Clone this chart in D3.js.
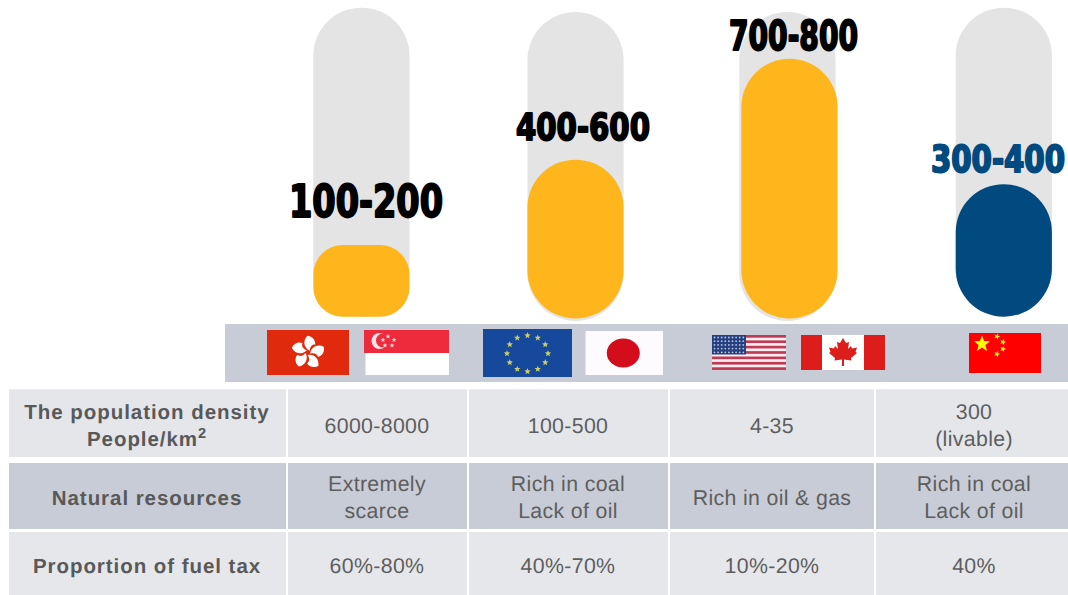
<!DOCTYPE html>
<html>
<head>
<meta charset="utf-8">
<script src="https://cdn.jsdelivr.net/npm/d3@7/dist/d3.min.js"></script>
<style>
  html, body { margin: 0; padding: 0; background: #fff; overflow: hidden; }
  svg { display: block; }
  text { font-family: "Liberation Sans", Arial, sans-serif; }
</style>
</head>
<body>
<svg id="chart" width="1068" height="595"></svg>
<script>
// Fuel price ranges by economy group (the label states the range, the bar an estimate inside it)
const groups = ["Hong Kong & Singapore", "EU & Japan", "USA & Canada", "China"];
const rangeLabels = ["100-200", "400-600", "700-800", "300-400"];
const barValues = [199, 441, 721, 368];
const trackCapacity = 858;
const barColors = ["#ffb61c", "#ffb61c", "#ffb61c", "#004a7f"];
const labelColors = ["#000000", "#000000", "#000000", "#004a7f"];

// Comparison table below the bars
const rowHeaders = [["The population density", "People/km"], ["Natural resources"], ["Proportion of fuel tax"]];
const densityRow = [["6000-8000"], ["100-500"], ["4-35"], ["300", "(livable)"]];
const resourceRow = [["Extremely", "scarce"], ["Rich in coal", "Lack of oil"], ["Rich in oil & gas"], ["Rich in coal", "Lack of oil"]];
const fuelTaxRow = [["60%-80%"], ["40%-70%"], ["10%-20%"], ["40%"]];

// Layout of each bar column
const trackLeft = [313.3, 527.4, 739.3, 955.7];
const barLeft = [313.3, 527.4, 741.4, 955.7];
const trackBase = [316.7, 321, 321, 316.7];
const barBase = [316.7, 318.5, 318.5, 316.7];
const barWidth = 96.2;
const labelLeft = [289, 516, 729, 931];
const labelWidth = [154, 134, 129, 134];
const labelBase = [217, 140, 50, 172];
const labelSize = [44, 38, 40, 37];

const svg = d3.select("#chart");
const defs = svg.append("defs");
defs.append("filter").attr("id", "soft")
  .attr("x", "-5%").attr("y", "-5%").attr("width", "110%").attr("height", "110%")
  .append("feGaussianBlur").attr("stdDeviation", 0.6);

const height = d3.scaleLinear().domain([0, trackCapacity]).range([0, 309]);
const indices = d3.range(groups.length);

// Bars: grey full-height track with the value capsule on top
const column = svg.append("g").selectAll("g").data(indices).join("g");
column.append("rect")
  .attr("x", i => trackLeft[i])
  .attr("y", i => trackBase[i] - height(trackCapacity))
  .attr("width", barWidth)
  .attr("height", height(trackCapacity))
  .attr("rx", 48).attr("ry", 48)
  .attr("fill", "#e4e4e4");
column.append("rect")
  .attr("x", i => barLeft[i])
  .attr("y", i => barBase[i] - height(barValues[i]))
  .attr("width", barWidth)
  .attr("height", i => height(barValues[i]))
  .attr("rx", i => Math.min(48, height(barValues[i]) * 0.41))
  .attr("ry", i => Math.min(48, height(barValues[i]) * 0.41))
  .attr("fill", i => barColors[i]);
column.append("text")
  .attr("x", i => labelLeft[i])
  .attr("y", i => labelBase[i])
  .attr("textLength", i => labelWidth[i])
  .attr("lengthAdjust", "spacingAndGlyphs")
  .attr("font-size", i => labelSize[i])
  .attr("font-weight", 700)
  .style("font-family", '"DejaVu Sans Condensed", "DejaVu Sans", sans-serif')
  .attr("fill", i => labelColors[i])
  .attr("stroke", i => labelColors[i])
  .attr("stroke-width", 1.9)
  .attr("stroke-linejoin", "round")
  .text(i => rangeLabels[i]);

// Flag strip
svg.append("rect").attr("x", 225).attr("y", 324).attr("width", 843).attr("height", 58).attr("fill", "#c8ccd6");
const flags = svg.append("g").attr("filter", "url(#soft)");

function starPath(cx, cy, r, rot = -90) {
  const pts = d3.range(10).map(k => {
    const a = (rot + k * 36) * Math.PI / 180, q = k % 2 ? r * 0.42 : r;
    return [cx + q * Math.cos(a), cy + q * Math.sin(a)];
  });
  return "M" + pts.map(p => p.join(",")).join("L") + "Z";
}
function rect(g, x, y, w, h, fill) {
  return g.append("rect").attr("x", x).attr("y", y).attr("width", w).attr("height", h).attr("fill", fill);
}

// Hong Kong
rect(flags, 267, 330, 82, 45, "#e1290a");
d3.range(5).forEach(k => {
  flags.append("path")
    .attr("transform", `translate(308,352.5) rotate(${k * 72 + 8})`)
    .attr("d", "M1.5,-2 C-5,-4 -7,-11 -3,-16.5 C2,-17 6,-13 6,-9 C3,-9 1,-6 1.5,-2Z")
    .attr("fill", "#fff");
});

// Singapore
rect(flags, 365.5, 352, 83.5, 23, "#fff");
rect(flags, 364, 330, 85, 23, "#ee2a3c");
flags.append("circle").attr("cx", 379.5).attr("cy", 341).attr("r", 8).attr("fill", "#fbe4e6");
flags.append("circle").attr("cx", 383).attr("cy", 340.5).attr("r", 7).attr("fill", "#ee2a3c");
[[388, 336.5], [394, 340], [392, 345.5], [385, 345.5], [383, 340]].forEach(p => {
  flags.append("path").attr("d", starPath(p[0], p[1], 2.6)).attr("fill", "#f6d8dc");
});

// European Union
rect(flags, 483, 329, 89, 48, "#17489b");
d3.range(12).forEach(k => {
  const a = k * 30 * Math.PI / 180;
  flags.append("path")
    .attr("d", starPath(527.5 + 20.5 * Math.sin(a), 353.5 - 18 * Math.cos(a), 3.4))
    .attr("fill", "#c9cf6a");
});

// Japan
rect(flags, 585.5, 331, 77.5, 44, "#fdfbfd");
flags.append("ellipse").attr("cx", 623.3).attr("cy", 353).attr("rx", 16.5).attr("ry", 14.5).attr("fill", "#d3091f");

// United States
rect(flags, 712, 335, 74, 35, "#fbeef0");
d3.range(7).forEach(k => {
  rect(flags, 712, 335 + k * 5.38, 74, 2.69, "#bf3a55");
});
rect(flags, 712, 335, 34, 19.5, "#25417f");
d3.range(5).forEach(r => d3.range(9).forEach(c => {
  flags.append("circle").attr("cx", 714.5 + c * 3.6).attr("cy", 337.5 + r * 3.7).attr("r", 0.9).attr("fill", "#b9c4dd");
}));

// Canada
rect(flags, 801, 335, 84, 35, "#dd1c1a");
rect(flags, 822, 335, 42, 35, "#fff");
flags.append("path")
  .attr("d", "M843,338 L846,343 L849,342 L848,349 L851,346 L852,348.5 L857,347.5 L855.5,352 L857,353 L851,358 L851.5,360.5 L844,359.5 L844,366 L842,366 L842,359.5 L834.5,360.5 L835,358 L829,353 L830.5,352 L829,347.5 L834,348.5 L835,346 L838,349 L837,342 L840,343Z")
  .attr("fill", "#dd1c1a");

// China
rect(flags, 969, 333, 72, 40, "#fe0000");
flags.append("path").attr("d", starPath(982, 344, 8.5)).attr("fill", "#ffff00");
[[997, 336.5], [1003, 342], [1003, 349], [997, 354]].forEach(p => {
  flags.append("path").attr("d", starPath(p[0], p[1], 3.2, -70)).attr("fill", "#ffff00");
});

// Comparison table
const colEdges = [[9, 286], [288, 467], [469, 668], [670, 874], [876, 1068]];
const colCentres = [147, 377, 568, 772, 974];
const rowEdges = [[389.3, 457], [463, 529], [532, 595]];
const rowFill = ["#e4e6ea", "#c8ccd6", "#e6e7eb"];
const midBaseline = [432.5, 504.5, 573];
const rows = [densityRow, resourceRow, fuelTaxRow];
const lineGap = 26.5;
const table = svg.append("g");

rows.forEach((cells, r) => {
  const [y0, y1] = rowEdges[r];
  const allCells = [rowHeaders[r], ...cells];
  allCells.forEach((lines, c) => {
    const [x0, x1] = colEdges[c];
    table.append("rect").attr("x", x0).attr("y", y0).attr("width", x1 - x0).attr("height", y1 - y0).attr("fill", rowFill[r]);
    const text = table.append("text")
      .attr("text-anchor", "middle")
      .attr("fill", c === 0 ? "#595959" : "#5e5e5e")
      .attr("font-size", c === 0 ? 20.5 : 21.3)
      .attr("font-weight", c === 0 ? 700 : 400)
      .attr("letter-spacing", c === 0 ? 0.95 : 0.35)
      .style("text-rendering", "geometricPrecision");
    const top = midBaseline[r] - (lines.length - 1) * lineGap / 2;
    lines.forEach((line, l) => {
      text.append("tspan")
        .attr("x", colCentres[c])
        .attr("y", top + l * lineGap)
        .text(line);
      if (line === "People/km") {
        text.append("tspan").attr("font-size", 14.5).attr("dy", -8).text("2");
      }
    });
  });
});
</script>
</body>
</html>
